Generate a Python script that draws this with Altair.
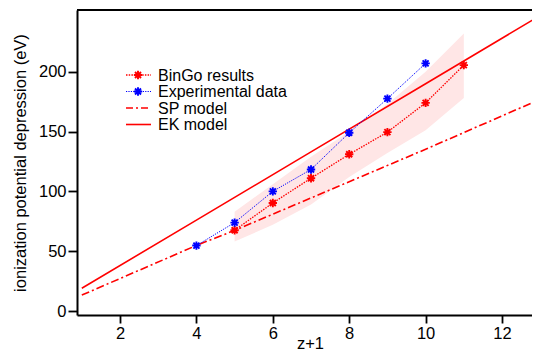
import altair as alt
import pandas as pd

# ---- data ----
bingo_x = [5, 6, 7, 8, 9, 10, 11]
bingo_y = [67.5, 90.3, 111, 131, 149.5, 174, 205.5]
band_lo = [58, 72, 89, 112, 132, 151, 178]
band_hi = [83, 106, 129, 150, 173, 200, 232]

exp_x = [4, 5, 6, 7, 8, 9, 10]
exp_y = [54.7, 73.9, 100, 118.3, 149, 177.5, 207]

ek_x = [1, 4, 7, 10, 13]
ek_y = [19, 76, 133, 190, 247]

sp_x = [1, 4, 5, 7, 10, 13]
sp_y = [13.3, 54.8, 67.4, 94.5, 135.2, 177]

legend_labels = ["BinGo results", "Experimental data", "SP model", "EK model"]

x_ticks = [2, 4, 6, 8, 10, 12]
y_ticks = [0, 50, 100, 150, 200]

RED = "#ff0000"
BLUE = "#0000ff"
FONT = "Liberation Sans"
W, H = 455, 305

star = "M-1,0L1,0M0,-1L0,1M-0.72,-0.72L0.72,0.72M-0.72,0.72L0.72,-0.72"

bingo = pd.DataFrame({"x": bingo_x, "y": bingo_y, "lo": band_lo, "hi": band_hi})
exp = pd.DataFrame({"x": exp_x, "y": exp_y})
ek = pd.DataFrame({"x": ek_x, "y": ek_y})
sp = pd.DataFrame({"x": sp_x, "y": sp_y})

xs = alt.Scale(domain=[0.874, 12.785], nice=False, zero=False)
ys = alt.Scale(domain=[-3.34, 251.6], nice=False, zero=False)

xax = alt.Axis(values=x_ticks, title="z+1", grid=False, tickSize=8, labelPadding=2,
               titleBaseline="bottom", titleY=36, titleX=233, titleAlign="center")
yax = alt.Axis(values=y_ticks, title="ionization potential depression (eV)", grid=False,
               tickSize=9, labelPadding=2, titleAngle=-90, titleX=-57, titleY=H / 2,
               titleBaseline="middle", titleAlign="center")

X = alt.X("x:Q", scale=xs, axis=xax)
Y = alt.Y("y:Q", scale=ys, axis=yax)

band = alt.Chart(bingo).mark_area(color="#ffe6e6", opacity=1).encode(
    x=alt.X("x:Q", scale=xs, axis=xax),
    y=alt.Y("lo:Q", scale=ys, axis=yax),
    y2="hi:Q",
)

sp_line = alt.Chart(sp).mark_line(color=RED, strokeWidth=1.6, strokeDash=[8, 3, 2, 3],
                                  clip=True).encode(x=X, y=Y)
ek_line = alt.Chart(ek).mark_line(color=RED, strokeWidth=1.6, clip=True).encode(x=X, y=Y)

bingo_line = alt.Chart(bingo).mark_line(color=RED, strokeWidth=1.3, strokeDash=[1.5, 1.2]).encode(x=X, y=Y)
bingo_pts = alt.Chart(bingo).mark_point(shape=star, color=RED, size=70, strokeWidth=1.9,
                                        filled=False, opacity=1).encode(x=X, y=Y)
exp_line = alt.Chart(exp).mark_line(color=BLUE, strokeWidth=1.0, strokeDash=[1.2, 1.2]).encode(x=X, y=Y)
exp_pts = alt.Chart(exp).mark_point(shape=star, color=BLUE, size=70, strokeWidth=1.9,
                                    filled=False, opacity=1).encode(x=X, y=Y)

# top frame line
frame = alt.Chart(pd.DataFrame({"a": [0]})).mark_rule(color="black", strokeWidth=2).encode(
    x=alt.value(0), x2=alt.value(W), y=alt.value(0))

# manual legend
leg_y = [65, 81.5, 98, 114.5]
styles = [
    dict(color=RED, strokeWidth=1.3, strokeDash=[1.5, 1.2]),
    dict(color=BLUE, strokeWidth=1.0, strokeDash=[1.2, 1.2]),
    dict(color=RED, strokeWidth=1.6, strokeDash=[7, 3, 2, 3]),
    dict(color=RED, strokeWidth=1.6),
]
leg_layers = []
for i, lab in enumerate(legend_labels):
    d = pd.DataFrame({"label": [lab]})
    leg_layers.append(alt.Chart(d).mark_rule(**styles[i]).encode(
        x=alt.value(49), x2=alt.value(74), y=alt.value(leg_y[i])))
    if i < 2:
        leg_layers.append(alt.Chart(d).mark_point(shape=star, color=styles[i]["color"], size=70,
                                                  strokeWidth=1.9, filled=False, opacity=1).encode(
            x=alt.value(61), y=alt.value(leg_y[i])))
    leg_layers.append(alt.Chart(d).mark_text(align="left", baseline="middle", font=FONT,
                                             fontSize=16, color="black").encode(
        x=alt.value(81), y=alt.value(leg_y[i] + 0.5), text="label:N"))

chart = alt.layer(band, sp_line, ek_line, bingo_line, exp_line, bingo_pts, exp_pts, frame,
                  *leg_layers).properties(
    width=W, height=H,
    autosize=alt.AutoSizeParams(type="none"),
    padding={"left": 69, "top": 2, "right": 0, "bottom": 36},
).configure_view(stroke=None).configure_axis(
    domainColor="black", domainWidth=2, tickColor="black", tickWidth=1.8,
    labelFont=FONT, labelFontSize=16.5, labelColor="black",
    titleFont=FONT, titleFontSize=16.5, titleColor="black", titleFontWeight="normal",
)

chart.save("out.html", embed_options={"renderer": "svg", "actions": False})
